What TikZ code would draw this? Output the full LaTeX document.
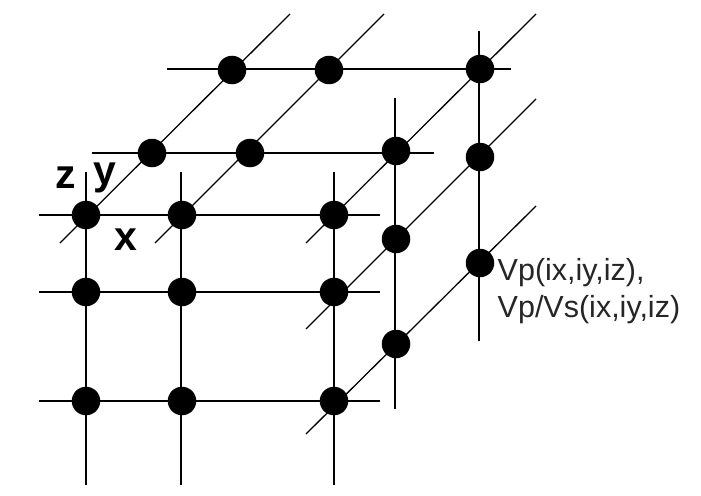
\documentclass[tikz,border=0pt]{standalone}
\usepackage{fontspec}
\setmainfont{Liberation Sans}
\begin{document}
\begin{tikzpicture}[x=1pt,y=-1pt,
  gridline/.style={draw=black,line width=1.3pt},
  dot/.style={circle,fill=black,inner sep=0pt,minimum size=28.5pt},
  axis/.style={font=\bfseries\fontsize{41}{43}\selectfont,inner sep=0pt,anchor=base},
  note/.style={font=\fontsize{30.5}{37}\selectfont,text=black!85,inner sep=0pt,align=left,anchor=base west}]
\useasboundingbox (0,0) rectangle (701,495);
\fill[white] (0,0) rectangle (701,495);
% free ends
\foreach \n/\x/\y in {
 fa/60/243,fb/290/14,ga/155/243,gb/384/14,ha/306/243,hb/536/14,
 ia/306/329,ib/536/99,ja/306/434,jb/536/206,
 h1a/39/215,h1b/380/215,h2a/39/292,h2b/380/292,h3a/39/401,h3b/380/401,
 h4a/92/153,h4b/434/153,h5a/167/69,h5b/511/69,
 v1a/86/172,v1b/86/485,v2a/181/172,v2b/181/485,v3a/334/172,v3b/334/485,
 v4a/395/98,v4b/395/409,v5a/479/31,v5b/479/341}
 {\coordinate (\n) at (\x,\y);}
\foreach \a/\b in {fa/fb,ga/gb,ha/hb,ia/ib,ja/jb,h1a/h1b,h2a/h2b,h3a/h3b,h4a/h4b,h5a/h5b,v1a/v1b,v2a/v2b,v3a/v3b,v4a/v4b,v5a/v5b}
 \draw[gridline] (\a) -- (\b);
\foreach \n/\x/\y in {
 a1/86/215,a2/182/215,a3/334/215,
 b1/86/292,b2/182/292,b3/334/292,
 c1/86/401,c2/182/401,c3/334/401,
 d1/152/153,d2/250/153,d3/396/151,d4/396/239,d5/396/344,
 e1/232/70,e2/329/70,e3/480/69,e4/480/157,e5/480/263}
 \node[dot] (\n) at (\x,\y) {};
\node[axis] (lz) at (65.5,188) {z};
\node[axis] (ly) at (105,184) {y};
\node[axis] (lx) at (126,250) {x};
\node[note] (lab) at (497.5,317) {Vp(ix,iy,iz),\\Vp/Vs(ix,iy,iz)};
\end{tikzpicture}
\end{document}
